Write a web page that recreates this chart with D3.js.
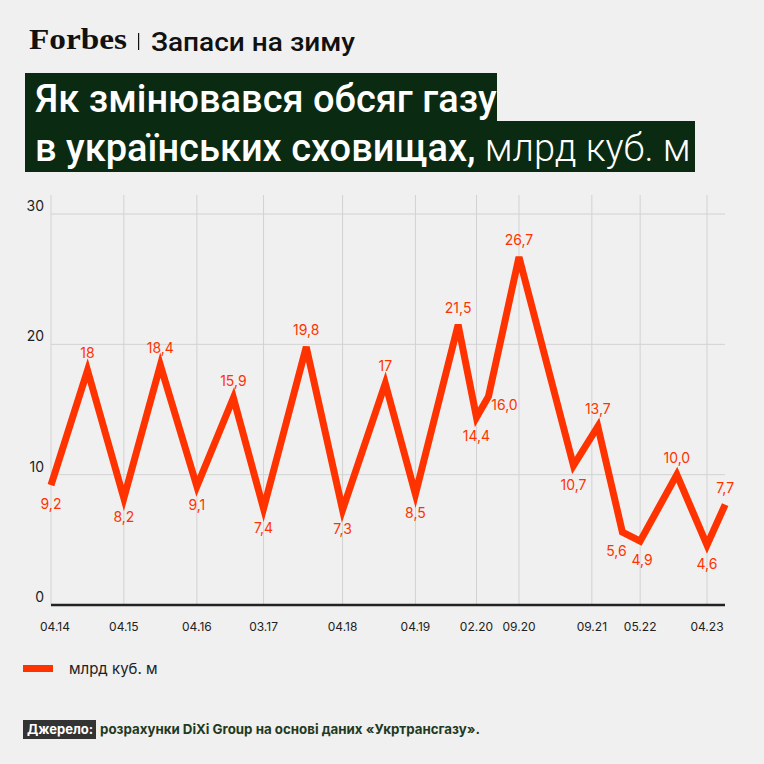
<!DOCTYPE html>
<html><head><meta charset="utf-8">
<script src="https://cdn.jsdelivr.net/npm/d3@7"></script>
<style>
body{margin:0;background:#f0f0f0;}
svg{display:block;font-family:Inter,Roboto,sans-serif;}
</style></head>
<body>
<svg width="764" height="764"></svg>
<script>
var dates = ["2014-04","2014-10","2015-04","2015-10","2016-04","2016-10","2017-03","2017-10","2018-04","2018-11","2019-04","2019-11","2020-02","2020-04","2020-09","2021-06","2021-10","2022-02","2022-05","2022-11","2023-04","2023-07"];
var values = [9.2,18,8.2,18.4,9.1,15.9,7.4,19.8,7.3,17,8.5,21.5,14.4,16.0,26.7,10.7,13.7,5.6,4.9,10.0,4.6,7.7];
var labels = ["9,2","18","8,2","18,4","9,1","15,9","7,4","19,8","7,3","17","8,5","21,5","14,4","16,0","26,7","10,7","13,7","5,6","4,9","10,0","4,6","7,7"];
var tickDates = ["2014-04","2015-04","2016-04","2017-03","2018-04","2019-04","2020-02","2020-09","2021-09","2022-05","2023-04"];
var tickLabels = ["04.14","04.15","04.16","03.17","04.18","04.19","02.20","09.20","09.21","05.22","04.23"];
var yTicks = [0,10,20,30];

var parse = d3.timeParse("%Y-%m");
var svg = d3.select("svg");
var red = "#ff3300";

var x = d3.scaleTime().domain([parse("2014-04"), parse("2023-04")]).range([51, 707]);
var y = d3.scaleLinear().domain([0, 30]).range([605, 214]);

// header
svg.append("text").attr("x", 29).attr("y", 49).attr("font-family", "'Liberation Serif',serif")
  .attr("font-weight", "bold").attr("font-size", 30).attr("textLength", 98).attr("lengthAdjust", "spacingAndGlyphs")
  .attr("fill", "#111").text("Forbes");
svg.append("rect").attr("x", 138).attr("y", 33).attr("width", 1.2).attr("height", 17).attr("fill", "#111");
svg.append("text").attr("x", 151).attr("y", 51).attr("font-size", 25).attr("font-weight", 500)
  .attr("textLength", 204).attr("lengthAdjust", "spacingAndGlyphs")
  .attr("font-family", "Roboto,sans-serif").attr("fill", "#111").text("Запаси на зиму");

svg.append("rect").attr("x", 25).attr("y", 73).attr("width", 472).attr("height", 49).attr("fill", "#0b2a12");
svg.append("rect").attr("x", 25).attr("y", 121).attr("width", 670).attr("height", 51).attr("fill", "#0b2a12");
svg.append("text").attr("x", 35).attr("y", 112).attr("font-size", 38).attr("font-weight", 500)
  .attr("font-family", "Roboto,sans-serif").attr("fill", "#fff").text("Як змінювався обсяг газу");
var t2 = svg.append("text").attr("x", 35).attr("y", 161).attr("font-size", 38)
  .attr("font-family", "Roboto,sans-serif").attr("fill", "#fff");
t2.append("tspan").attr("font-weight", 500).text("в українських сховищах,");
t2.append("tspan").attr("font-weight", 300).text(" млрд куб. м");

// grid
svg.append("g").selectAll("line").data(yTicks.slice(1)).enter().append("line")
  .attr("x1", 51).attr("x2", 725).attr("y1", d => y(d)).attr("y2", d => y(d))
  .attr("stroke", "#d2d2d2");
svg.append("g").selectAll("line").data(tickDates).enter().append("line")
  .attr("x1", d => x(parse(d))).attr("x2", d => x(parse(d))).attr("y1", 195).attr("y2", 605)
  .attr("stroke", "#d2d2d2");
svg.append("line").attr("x1", 51).attr("x2", 725).attr("y1", y(0)).attr("y2", y(0))
  .attr("stroke", "#222").attr("stroke-width", 2.5);

svg.append("g").selectAll("text").data(yTicks).enter().append("text")
  .attr("x", 44).attr("y", d => y(d) - 3).attr("text-anchor", "end")
  .attr("font-size", 14).attr("fill", "#222").text(d => d);
svg.append("g").selectAll("text").data(tickDates).enter().append("text")
  .attr("x", (d, i) => x(parse(d)) + (i == 0 ? 4 : 0)).attr("y", 631).attr("text-anchor", "middle")
  .attr("font-size", 12).attr("fill", "#222").text((d, i) => tickLabels[i]);

// line
var pts = dates.map((d, i) => ({ date: parse(d), v: values[i], lab: labels[i] }));
svg.append("path").datum(pts)
  .attr("d", d3.line().x(d => x(d.date)).y(d => y(d.v)))
  .attr("fill", "none").attr("stroke", red).attr("stroke-width", 7).attr("stroke-linejoin", "miter");

svg.append("g").selectAll("text").data(pts).enter().append("text")
  .attr("x", function(d, i) { return x(d.date) + (i == 13 ? 16 : i == 17 ? -6 : i == 18 ? 2 : 0); })
  .attr("y", function(d, i) {
    var prev = i > 0 ? values[i - 1] : -1, next = i < values.length - 1 ? values[i + 1] : -1;
    if (i == 13) return y(d.v) + 14;
    return (d.v > prev && d.v > next) ? y(d.v) - 12 : y(d.v) + 24;
  })
  .attr("text-anchor", "middle").attr("font-size", 14).attr("fill", red).text(d => d.lab);

// legend
svg.append("rect").attr("x", 23).attr("y", 665).attr("width", 30).attr("height", 7).attr("fill", red);
svg.append("text").attr("x", 69).attr("y", 674).attr("font-size", 15).attr("fill", "#222").text("млрд куб. м");

// source
svg.append("rect").attr("x", 23).attr("y", 720).attr("width", 73).attr("height", 19).attr("fill", "#333");
svg.append("text").attr("x", 27).attr("y", 734).attr("font-size", 13).attr("font-weight", "bold").attr("fill", "#fff").text("Джерело:");
svg.append("text").attr("x", 100).attr("y", 734).attr("font-size", 13.3).attr("font-weight", "bold").attr("fill", "#1e3a22")
  .text("розрахунки DiXi Group на основі даних «Укртрансгазу».");
</script>
</body></html>
